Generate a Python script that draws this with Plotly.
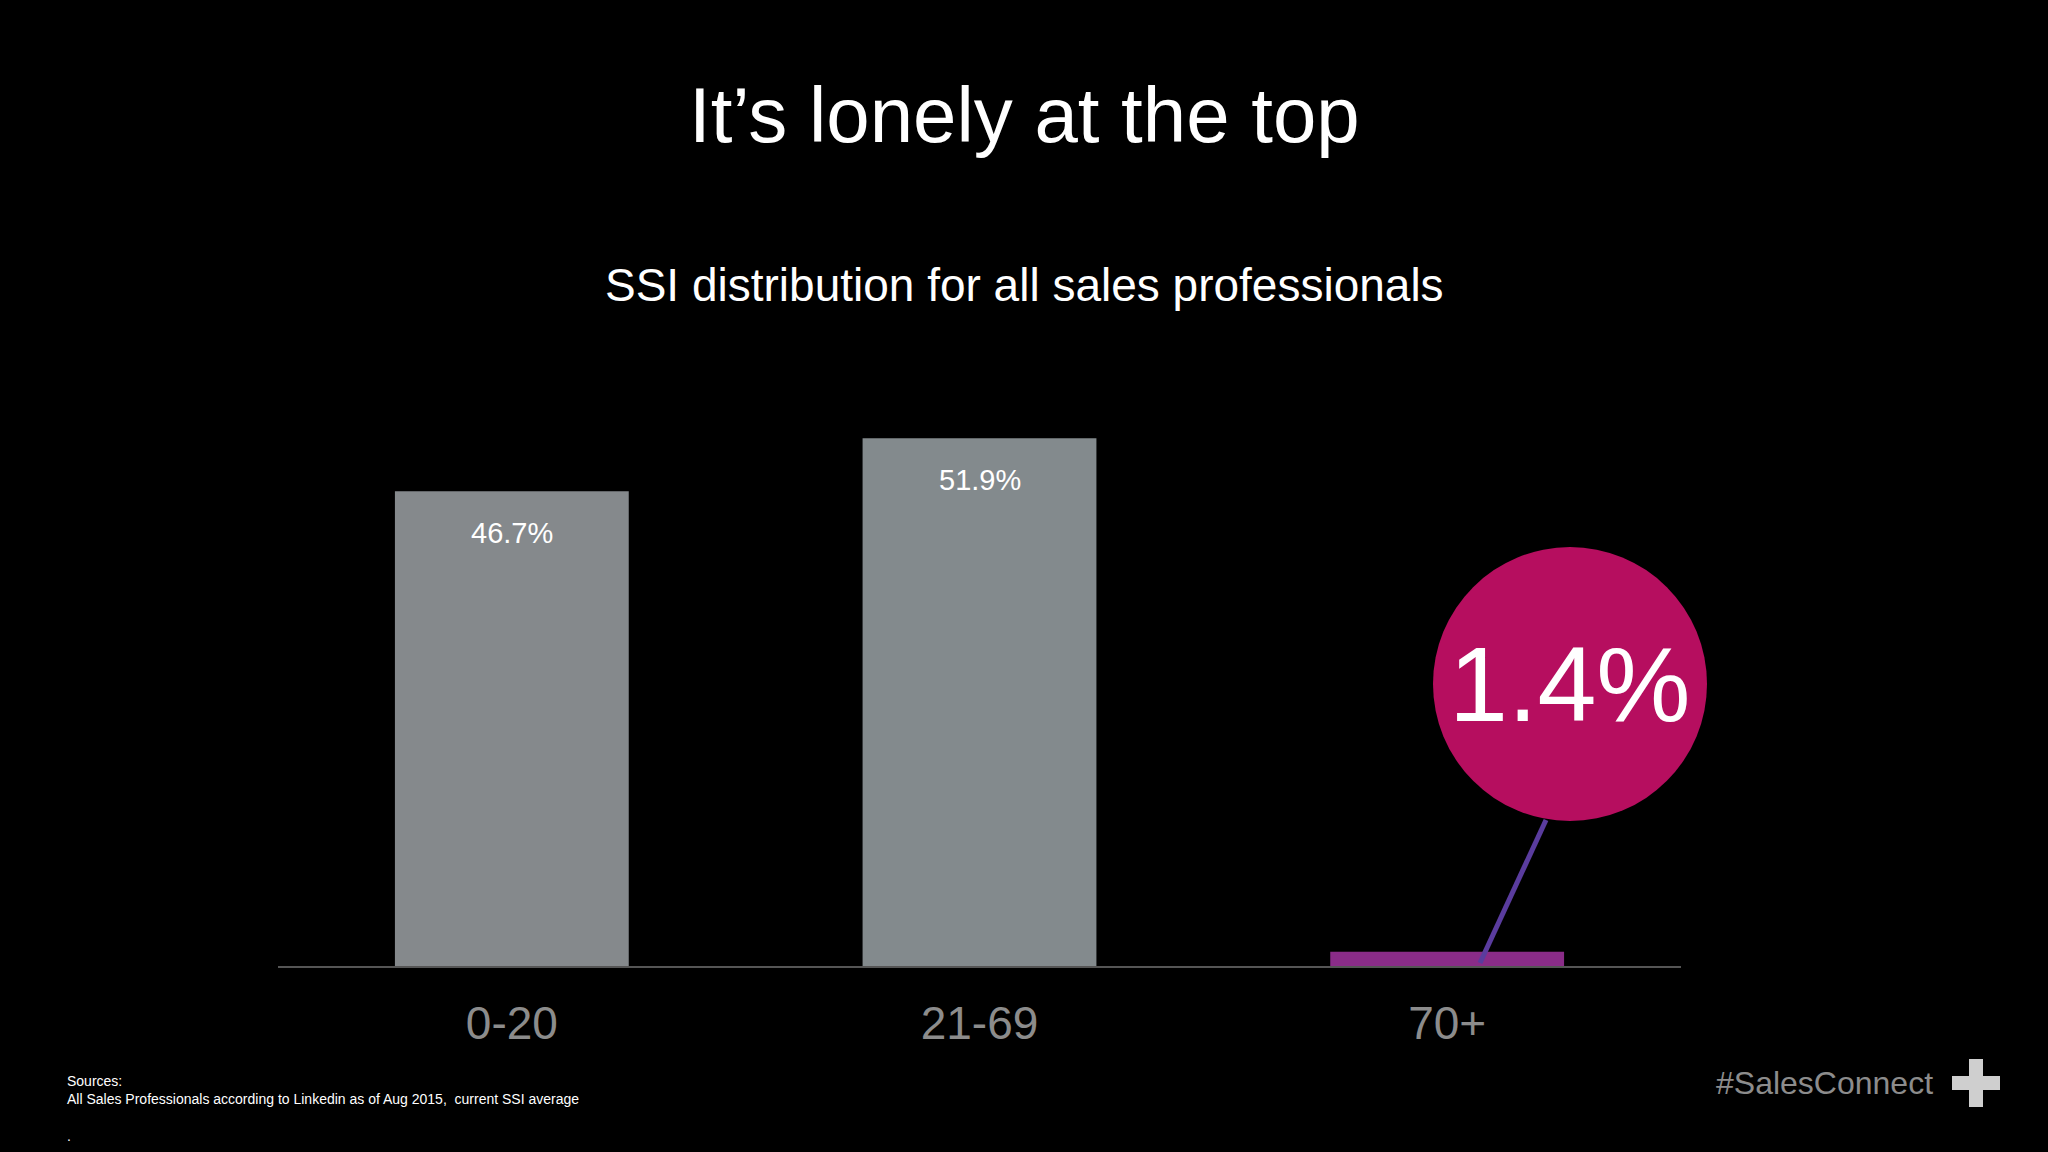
import plotly.graph_objects as go

categories = ['0-20', '21-69', '70+']
shares = [46.7, 51.9, 1.4]
bar_labels = ['46.7%', '51.9%', '']
bubble_text = '1.4%'

W, H = 2048, 1152
L, R, T, B = 278, 2048 - 1681, 300, 1152 - 966
PW, PH = W - L - R, H - T - B


def px(x):
    return (x - L) / PW


def py(y):
    return (H - B - y) / PH


fig = go.Figure()
fig.add_trace(go.Bar(
    x=[0, 1, 2], y=shares, width=0.5,
    marker=dict(color=['#85898c', '#838a8d', '#8a2c88'], line=dict(width=0)),
    hoverinfo='skip'))

for i, lab in enumerate(bar_labels):
    if lab:
        fig.add_annotation(x=i, y=shares[i], xref='x', yref='y', text=lab, showarrow=False,
                           xanchor='center', yanchor='top', yshift=-24,
                           font=dict(size=29, color='white'))

fig.update_layout(
    width=W, height=H, paper_bgcolor='black', plot_bgcolor='black',
    margin=dict(l=L, r=R, t=T, b=B), showlegend=False, bargap=0.5,
    font=dict(family='Liberation Sans', color='white'),
    xaxis=dict(range=[-0.5, 2.5], tickvals=[0, 1, 2], ticktext=categories,
               tickfont=dict(size=46, color='#8c8c8c'), showgrid=False, zeroline=False,
               showline=True, linecolor='#555555', linewidth=2, ticks='', ticklabelstandoff=16),
    yaxis=dict(range=[0, 65.5], visible=False),
)

# bubble callout for top band (paper refs so it is not clipped)
bx, by = 1570, 684
fig.add_shape(type='line', xref='paper', yref='paper', x0=px(1546), y0=py(820), x1=px(1480), y1=py(963),
              line=dict(color='#5a3c9e', width=5))
fig.add_shape(type='circle', xref='paper', yref='paper', xsizemode='pixel', ysizemode='pixel',
              xanchor=px(bx), yanchor=py(by), x0=-137, x1=137, y0=-137, y1=137,
              fillcolor='#b60e5f', line=dict(width=0))
fig.add_annotation(x=px(bx), y=py(by), xref='paper', yref='paper', text=bubble_text, showarrow=False,
                   xanchor='center', yanchor='middle', font=dict(size=106, color='white'))

fig.add_annotation(x=px(1024), y=py(115), xref='paper', yref='paper', text='It’s lonely at the top',
                   xanchor='center', yanchor='middle', showarrow=False, font=dict(size=78, color='white'))
fig.add_annotation(x=px(1024), y=py(285), xref='paper', yref='paper',
                   text='SSI distribution for all sales professionals',
                   xanchor='center', yanchor='middle', showarrow=False, font=dict(size=46, color='white'))
fig.add_annotation(x=px(65), y=py(1108), xref='paper', yref='paper', xanchor='left', yanchor='middle',
                   text='Sources:<br>All Sales Professionals according to Linkedin as of Aug 2015,  current SSI average<br><br>.',
                   align='left', showarrow=False, font=dict(size=14, color='white'))
fig.add_annotation(x=px(1935), y=py(1083), xref='paper', yref='paper', xanchor='right', yanchor='middle',
                   text='#SalesConnect', showarrow=False, font=dict(size=32, color='#8c8c8c'))
# plus logo
cx, cy = 1976, 1083
fig.add_shape(type='rect', xref='paper', yref='paper', x0=px(cx - 24), x1=px(cx + 24),
              y0=py(cy + 7), y1=py(cy - 7), fillcolor='#cfcfcf', line=dict(width=0))
fig.add_shape(type='rect', xref='paper', yref='paper', x0=px(cx - 7), x1=px(cx + 7),
              y0=py(cy + 24), y1=py(cy - 24), fillcolor='#cfcfcf', line=dict(width=0))

fig.write_html('out.html', config={'displayModeBar': False},
               post_script="document.body.style.margin='0';document.body.style.background='black';")
